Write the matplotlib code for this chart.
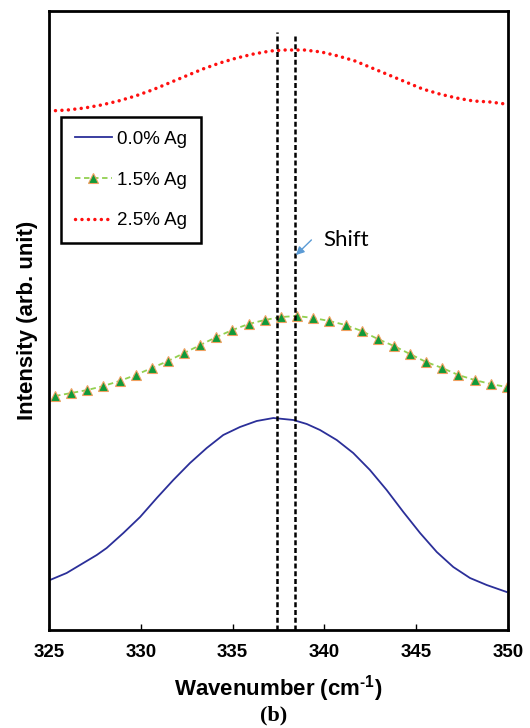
import numpy as np
import matplotlib
matplotlib.use('Agg')
import matplotlib.pyplot as plt

# wavenumber / intensity (arbitrary units)
wn_00 = [325.05, 325.96, 326.87, 327.60, 328.14, 329.05, 329.96, 330.87, 331.77, 332.68,
         333.59, 334.49, 335.40, 336.31, 337.22, 338.31, 339.04, 339.76, 340.67, 341.57,
         342.48, 343.39, 344.30, 345.21, 346.12, 347.02, 347.93, 348.84, 349.93]
int_00 = [50, 57, 67, 75, 82, 97, 113, 132, 150, 167,
          182, 195, 203, 209, 212, 210, 206, 200, 190, 177,
          160, 140, 118, 97, 78, 63, 52, 45, 38]

wn_15 = [325.33, 326.21, 327.09, 327.96, 328.84, 329.72, 330.60, 331.48, 332.36, 333.24,
         334.12, 334.99, 335.87, 336.75, 337.63, 338.51, 339.39, 340.27, 341.15, 342.03,
         342.91, 343.79, 344.66, 345.54, 346.42, 347.30, 348.18, 349.06, 349.93]
int_15 = [234, 237, 240, 244, 249, 255, 262, 269, 277, 285,
          293, 300, 306, 310, 313, 314, 312, 309, 305, 299,
          291, 284, 276, 268, 262, 255, 250, 246, 243]

wn_25 = [325.00, 326.01, 326.93, 327.85, 328.78, 329.70, 330.62, 331.54, 332.46, 333.38,
         334.30, 335.22, 336.14, 337.06, 337.80, 338.35, 338.90, 339.83, 340.75, 341.67,
         342.59, 343.51, 344.43, 345.35, 346.27, 347.19, 348.11, 349.03, 349.86]
int_25 = [519, 520, 522, 525, 529, 534, 540, 547, 554, 561,
          567, 572, 576, 579, 580, 580, 580, 578, 574, 569,
          562, 555, 548, 541, 536, 532, 529, 528, 526]

peak_lines = [337.4, 338.4]
xticks = [325, 330, 335, 340, 345, 350]

plt.rcParams['font.family'] = ['Liberation Sans', 'DejaVu Sans']
plt.rcParams['mathtext.fontset'] = 'custom'
plt.rcParams['mathtext.rm'] = 'Liberation Sans'
plt.rcParams['mathtext.bf'] = 'Liberation Sans:bold'

fig = plt.figure(figsize=(5.3, 7.28), dpi=100)
ax = fig.add_axes([0.0925, 0.1346, 0.866, 0.8503])

ax.plot(wn_00, int_00, color='#2b2f99', lw=1.3, label='0.0% Ag')
ax.plot(wn_15, int_15, color='#92d050', lw=1.3, ls=(0, (3, 2)),
        marker='^', ms=6.5, mfc='#109a3a', mec='#f0a060', mew=0.8, label='1.5% Ag')
ax.plot(wn_25, int_25, color='#ff1010', lw=2.5, ls=(0, (0.01, 1.85)),
        dash_capstyle='round', label='2.5% Ag')

ax.vlines(peak_lines[0], 0, 598, colors='black', lw=1.8, linestyles=(0, (2.0, 1.1)))
ax.vlines(peak_lines[1], 0, 596, colors='black', lw=1.8, linestyles=(0, (2.0, 1.1)))

ax.annotate('', xy=(338.34, 373), xytext=(339.4, 392),
            arrowprops=dict(arrowstyle='-|>', color='#5b9bd5', lw=1, mutation_scale=12))
ax.text(339.94, 384.3, 'Shift', fontsize=16, family=['Lato', 'DejaVu Sans'], va='baseline')

ax.set_xlim(325, 350)
ax.set_ylim(0, 619)
ax.set_xticks(xticks)
ax.set_yticks([])
ax.tick_params(axis='x', direction='in', length=4, width=1, pad=10, labelsize=13.5)
for lab in ax.get_xticklabels():
    lab.set_fontweight('bold')
for s in ax.spines.values():
    s.set_linewidth(2)

ax.set_xlabel('Wavenumber (cm$^{\\mathbf{\u2010}\\mathbf{1}}$)', fontsize=16, fontweight='bold',
              labelpad=9)
ax.set_ylabel('Intensity (arb. unit)', fontsize=16, fontweight='bold', labelpad=8)

leg = ax.legend(loc='upper left', bbox_to_anchor=(0.026, 0.829), borderaxespad=0,
                fontsize=13.5, handlelength=1.95, handletextpad=0.3, labelspacing=1.25,
                borderpad=0.75, fancybox=False, framealpha=1)
leg.get_frame().set_edgecolor('black')
leg.get_frame().set_linewidth(1.8)

fig.text(0.517, 0.004, '(b)', fontsize=16, fontweight='bold',
         family=['Liberation Serif', 'DejaVu Serif'], ha='center', va='bottom')

fig.savefig('out.png', dpi=100)
